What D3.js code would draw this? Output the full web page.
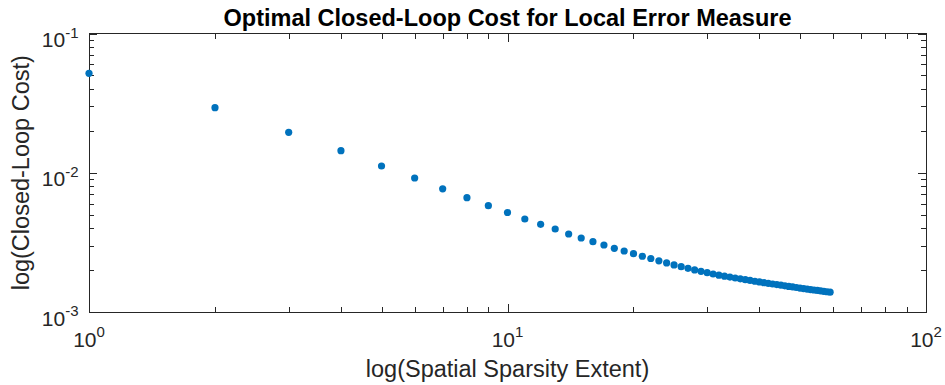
<!DOCTYPE html>
<html>
<head>
<meta charset="utf-8">
<script src="https://cdn.jsdelivr.net/npm/d3@7/dist/d3.min.js"></script>
<style>
  html, body { margin: 0; padding: 0; background: #ffffff; }
  svg { display: block; font-family: "Liberation Sans", Arial, Helvetica, sans-serif; }
</style>
</head>
<body>
<svg id="chart" width="945" height="385"></svg>
<script>
// Spatial sparsity extent (x) and the optimal closed-loop cost (y)
const sparsityExtent = [
  1, 2, 3, 4, 5, 6, 7, 8, 9, 10,
  11, 12, 13, 14, 15, 16, 17, 18, 19, 20,
  21, 22, 23, 24, 25, 26, 27, 28, 29, 30,
  31, 32, 33, 34, 35, 36, 37, 38, 39, 40,
  41, 42, 43, 44, 45, 46, 47, 48, 49, 50,
  51, 52, 53, 54, 55, 56, 57, 58, 59
];
const closedLoopCost = [
  0.05178, 0.02931, 0.01952, 0.01440, 0.01118, 0.00917, 0.007667, 0.006618, 0.005800, 0.005182,
  0.004655, 0.004264, 0.003946, 0.003632, 0.003400, 0.003198, 0.003028, 0.002867, 0.002742, 0.002622,
  0.002515, 0.002422, 0.002331, 0.002252, 0.002179, 0.002115, 0.002060, 0.002006, 0.001960, 0.001915,
  0.001875, 0.001838, 0.001807, 0.001781, 0.001755, 0.001730, 0.001707, 0.001685, 0.001663, 0.001644,
  0.001625, 0.001607, 0.001589, 0.001573, 0.001557, 0.001541, 0.001527, 0.001513, 0.001499, 0.001486,
  0.001473, 0.001461, 0.001450, 0.001439, 0.001428, 0.001418, 0.001407, 0.001398, 0.001388
];
// Decade tick labels, written as powers of ten
const xTickExponents = ["0", "1", "2"];
const yTickExponents = ["-3", "-2", "-1"];

const titleText = "Optimal Closed-Loop Cost for Local Error Measure";
const xLabelText = "log(Spatial Sparsity Extent)";
const yLabelText = "log(Closed-Loop Cost)";

const axisColor = "#262626";
const markerColor = "#0072BD";
const plot = { left: 89, right: 926, top: 33.5, bottom: 312 };

const svg = d3.select("#chart");

const x = d3.scaleLog().domain([1, 100]).range([plot.left, plot.right]);
const y = d3.scaleLog().domain([1e-3, 1e-1]).range([plot.bottom, plot.top]);

const isDecade = v => Math.abs(Math.log10(v) - Math.round(Math.log10(v))) < 1e-9;
const majorLen = 8.4, minorLen = 5;

// Frame around the axes
svg.append("rect")
  .attr("x", plot.left).attr("y", plot.top)
  .attr("width", plot.right - plot.left).attr("height", plot.bottom - plot.top)
  .attr("fill", "none").attr("stroke", axisColor).attr("stroke-width", 1)
  .attr("shape-rendering", "crispEdges");

// Inward ticks on all four sides
const ticks = svg.append("g").attr("stroke", axisColor).attr("stroke-width", 1)
  .attr("shape-rendering", "crispEdges");

x.ticks().forEach(t => {
  const px = Math.round(x(t)) + 0.5;
  const len = isDecade(t) ? majorLen : minorLen;
  ticks.append("line").attr("x1", px).attr("x2", px).attr("y1", plot.bottom).attr("y2", plot.bottom - len);
  ticks.append("line").attr("x1", px).attr("x2", px).attr("y1", plot.top).attr("y2", plot.top + len);
});
y.ticks().forEach(t => {
  const py = Math.round(y(t)) + 0.5;
  const len = isDecade(t) ? majorLen : minorLen;
  ticks.append("line").attr("y1", py).attr("y2", py).attr("x1", plot.left).attr("x2", plot.left + len);
  ticks.append("line").attr("y1", py).attr("y2", py).attr("x1", plot.right).attr("x2", plot.right - len);
});

// Tick labels: "10" with a raised exponent
function powerLabel(g, exp) {
  g.append("tspan").text("10");
  g.append("tspan").attr("dy", -9.5).attr("font-size", 15).text(exp);
}
xTickExponents.forEach(e => {
  const t = svg.append("text")
    .attr("x", x(Math.pow(10, +e)))
    .attr("y", plot.bottom + 34.7)
    .attr("text-anchor", "middle")
    .attr("font-size", 21)
    .attr("fill", axisColor);
  powerLabel(t, e);
});
yTickExponents.forEach(e => {
  const t = svg.append("text")
    .attr("x", plot.left - 10.5)
    .attr("y", y(Math.pow(10, +e)) + 13.5)
    .attr("text-anchor", "end")
    .attr("font-size", 21)
    .attr("fill", axisColor);
  powerLabel(t, e);
});

// Data markers
svg.append("g").selectAll("circle")
  .data(sparsityExtent.map((v, i) => [v, closedLoopCost[i]]))
  .join("circle")
  .attr("cx", d => x(d[0]))
  .attr("cy", d => y(d[1]))
  .attr("r", 3.6)
  .attr("fill", markerColor);

// Title and axis labels
svg.append("text")
  .attr("x", (plot.left + plot.right) / 2).attr("y", 25.5)
  .attr("text-anchor", "middle")
  .attr("font-size", 23.5).attr("font-weight", "bold")
  .attr("fill", "#000000")
  .text(titleText);

svg.append("text")
  .attr("x", (plot.left + plot.right) / 2).attr("y", 377)
  .attr("text-anchor", "middle")
  .attr("font-size", 23.5)
  .attr("fill", axisColor)
  .text(xLabelText);

svg.append("text")
  .attr("transform", `translate(29,${(plot.top + plot.bottom) / 2}) rotate(-90)`)
  .attr("text-anchor", "middle")
  .attr("font-size", 23.5)
  .attr("fill", axisColor)
  .text(yLabelText);
</script>
</body>
</html>
